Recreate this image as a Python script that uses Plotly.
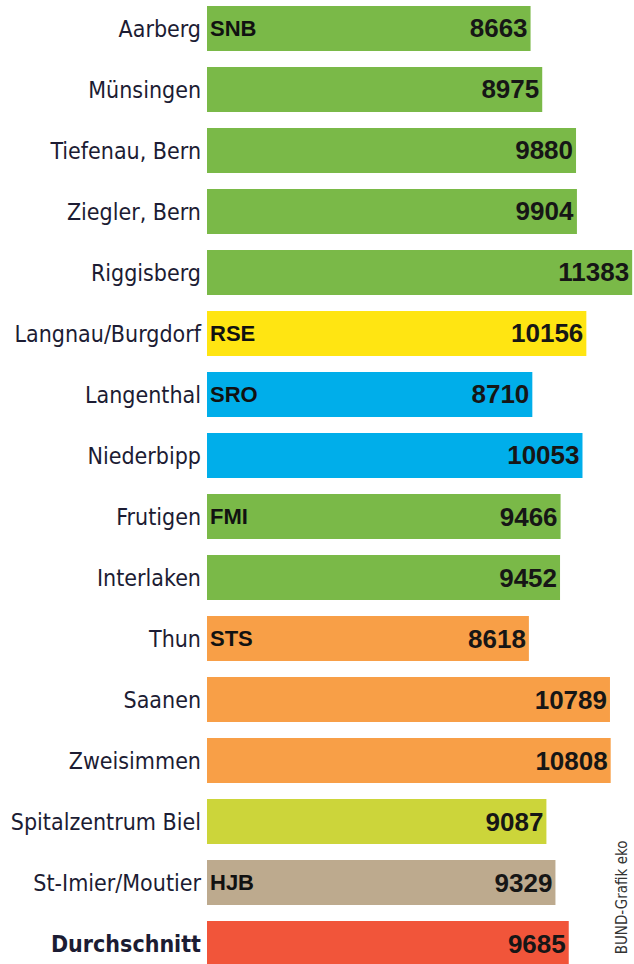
import plotly.graph_objects as go

names = ["Aarberg", "Münsingen", "Tiefenau, Bern", "Ziegler, Bern", "Riggisberg",
         "Langnau/Burgdorf", "Langenthal", "Niederbipp", "Frutigen", "Interlaken",
         "Thun", "Saanen", "Zweisimmen", "Spitalzentrum Biel", "St-Imier/Moutier",
         "Durchschnitt"]
values = [8663, 8975, 9880, 9904, 11383, 10156, 8710, 10053, 9466, 9452,
          8618, 10789, 10808, 9087, 9329, 9685]
codes = ["SNB", "", "", "", "", "RSE", "SRO", "", "FMI", "", "STS", "", "", "", "HJB", ""]
groups = ["SNB", "SNB", "SNB", "SNB", "SNB", "RSE", "SRO", "SRO", "FMI", "FMI",
          "STS", "STS", "STS", "SZB", "HJB", "AVG"]
group_colors = {"SNB": "#7ab948", "RSE": "#ffe512", "SRO": "#00aeea", "FMI": "#7ab948",
                "STS": "#f89f47", "SZB": "#ccd53a", "HJB": "#bdaa8e", "AVG": "#f1553a"}

pos = list(range(len(names)))
ticktext = [("<b>%s</b>" % n) if n == "Durchschnitt" else n for n in names]

fig = go.Figure(go.Bar(
    x=values, y=pos, orientation="h",
    marker=dict(color=[group_colors[g] for g in groups], line=dict(width=0)),
    width=0.74,
    text=[str(v) for v in values],
    textposition="inside", insidetextanchor="end",
    textfont=dict(family="Liberation Sans", size=26, color="#161616", weight="bold"),
    cliponaxis=False,
))

for i, c in enumerate(codes):
    if c:
        fig.add_annotation(x=0, y=i, text="<b>%s</b>" % c, showarrow=False,
                           xanchor="left", yanchor="middle", xshift=1,
                           font=dict(family="Liberation Sans", size=22, color="#111111"))

fig.add_annotation(xref="paper", yref="paper", x=1.0, y=0.008, text="BUND-Grafik eko",
                   textangle=-90, showarrow=False, xanchor="right", yanchor="bottom",
                   xshift=-1,
                   font=dict(family="Liberation Sans Narrow, DejaVu Sans Condensed, Liberation Sans",
                             size=15, color="#333333"))

fig.update_layout(
    width=634, height=964,
    margin=dict(l=207, r=0, t=0, b=0),
    paper_bgcolor="white", plot_bgcolor="white",
    showlegend=False,
    xaxis=dict(range=[0, 11432], visible=False, fixedrange=True),
    yaxis=dict(range=[15.336, -0.467], tickvals=pos, ticktext=ticktext,
               showgrid=False, zeroline=False, showline=False, ticks="",
               ticklabelstandoff=5,
               tickfont=dict(family="DejaVu Sans Condensed, Liberation Sans, sans-serif",
                             size=23, color="#1c1c33")),
)

fig.write_html("out.html")
